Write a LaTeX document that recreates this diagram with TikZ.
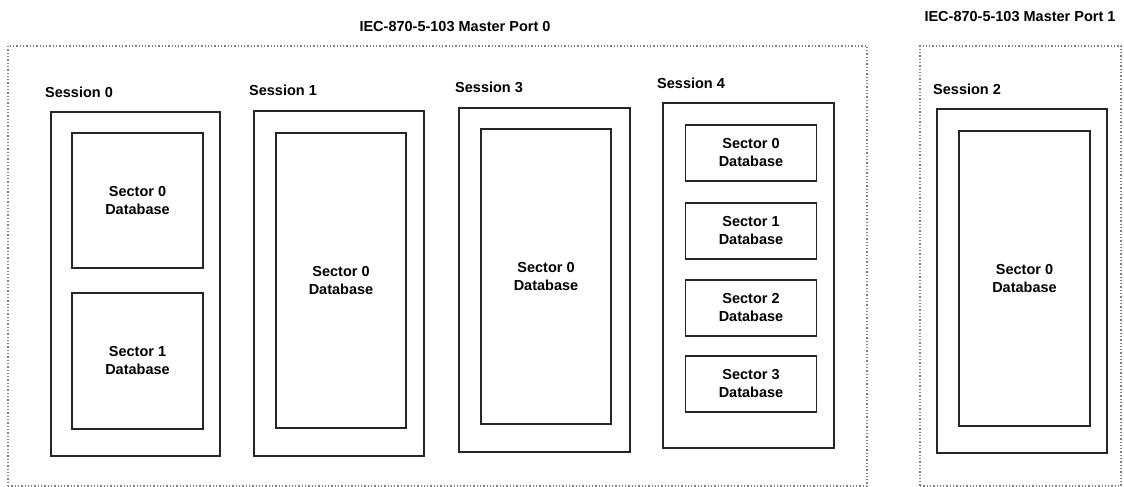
\documentclass[tikz,border=0pt]{standalone}
\usepackage{fontspec}
\setmainfont{Liberation Sans}
\usepackage{tikz}
\usetikzlibrary{calc}
\usetikzlibrary{positioning}

\tikzset{
  portbox/.style={draw=black!50, dotted, line width=1.3pt, inner sep=0pt},
  sessionbox/.style={draw=black!85, line width=1.6pt, inner sep=0pt},
  sectorbox/.style={draw=black!85, line width=1.6pt, inner sep=0pt, align=center,
    font=\fontsize{14.5}{18}\selectfont\bfseries},
  sessionlabel/.style={anchor=west, inner sep=0pt, font=\fontsize{14.5}{18}\selectfont\bfseries},
  porttitle/.style={inner sep=0pt, font=\fontsize{14.5}{18}\selectfont\bfseries},
}

\begin{document}
\begin{tikzpicture}[x=1pt, y=-1pt]
  \useasboundingbox (0, 0) rectangle (1124, 487);

  % master ports
  \node[portbox, minimum width=859, minimum height=440] (port0) at (437.5, 266) {};
  \node[portbox, minimum width=201, minimum height=440] (port1) at (1020.5, 266) {};
  \node[porttitle] (port0title) at (455, 27) {IEC-870-5-103 Master Port 0};
  \node[porttitle] (port1title) at (1020, 17) {IEC-870-5-103 Master Port 1};

  % Session 0
  \node[sessionlabel] (ses0label) at (45, 92) {Session 0};
  \node[sessionbox, minimum width=169, minimum height=344] (ses0) at (135.5, 284) {};
  \node[sectorbox, minimum width=131, minimum height=135] (ses0sec0) at (137.5, 200.5) {Sector 0\\Database};
  \node[sectorbox, minimum width=131, minimum height=136] (ses0sec1) at (137.5, 361) {Sector 1\\Database};

  % Session 1
  \node[sessionlabel] (ses1label) at (249, 90) {Session 1};
  \node[sessionbox, minimum width=170, minimum height=345] (ses1) at (339, 283.5) {};
  \node[sectorbox, minimum width=130, minimum height=295] (ses1sec0) at (341, 280.5) {Sector 0\\Database};

  % Session 3
  \node[sessionlabel] (ses3label) at (455, 87) {Session 3};
  \node[sessionbox, minimum width=171, minimum height=344] (ses3) at (544.5, 280) {};
  \node[sectorbox, minimum width=130, minimum height=295] (ses3sec0) at (546, 276.5) {Sector 0\\Database};

  % Session 4
  \node[sessionlabel] (ses4label) at (657, 83) {Session 4};
  \node[sessionbox, minimum width=171, minimum height=345] (ses4) at (748.5, 275.5) {};
  \foreach \i/\y in {0/153, 1/231, 2/308, 3/384}
    \node[sectorbox, minimum width=131, minimum height=56] (ses4sec\i) at (751, \y) {Sector \i\\Database};

  % Session 2
  \node[sessionlabel] (ses2label) at (933, 89) {Session 2};
  \node[sessionbox, minimum width=170, minimum height=344] (ses2) at (1022, 281) {};
  \node[sectorbox, minimum width=131, minimum height=295] (ses2sec0) at (1024.5, 278.5) {Sector 0\\Database};
\end{tikzpicture}
\end{document}
